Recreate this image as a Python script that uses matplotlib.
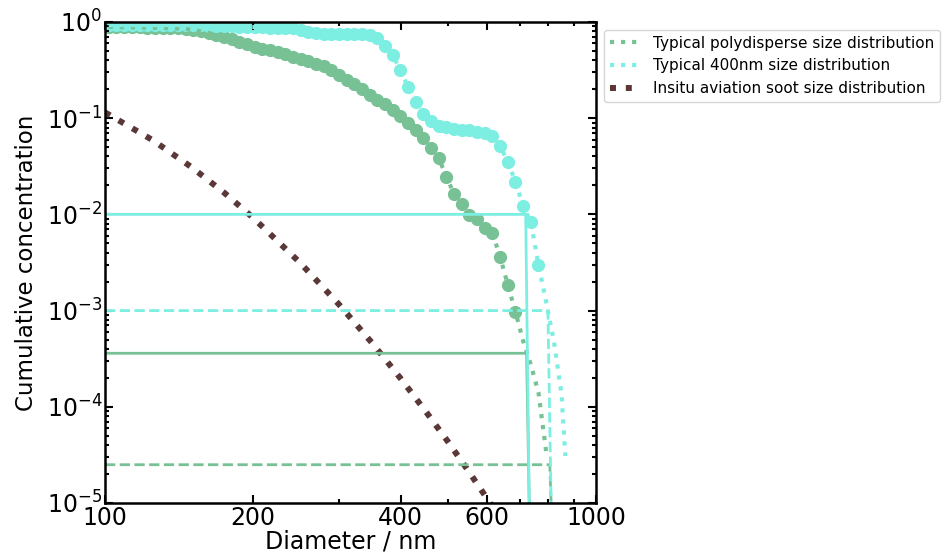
import matplotlib
matplotlib.use('Agg')
import matplotlib.pyplot as plt
from matplotlib.ticker import FixedLocator, NullFormatter, LogLocator

# SMPS channel midpoints (nm)
diam = [101.8, 105.5, 109.4, 113.4, 117.6, 121.9, 126.3, 131.0, 135.8, 140.7,
        145.9, 151.2, 156.8, 162.5, 168.5, 174.7, 181.1, 187.7, 194.6, 201.7,
        209.1, 216.7, 224.7, 232.9, 241.4, 250.3, 259.5, 269.0, 278.8, 289.0,
        299.6, 310.6, 322.0, 333.8, 346.0, 358.7, 371.8, 385.4, 399.5, 414.2,
        429.4, 445.1, 461.4, 478.3, 495.8, 514.0, 532.8, 552.3, 572.5, 593.5,
        615.3, 637.8, 661.2, 685.4, 710.5, 736.5, 763.5, 791.5, 820.5, 850.5]

# typical polydisperse (green)
poly_conc = [0.89, 0.89, 0.88, 0.88, 0.88, 0.87, 0.87, 0.866, 0.866, 0.856,
             0.846, 0.826, 0.797, 0.769, 0.733, 0.690, 0.658, 0.620, 0.584, 0.556,
             0.530, 0.512, 0.488, 0.465, 0.433, 0.412, 0.389, 0.366, 0.349, 0.317,
             0.281, 0.249, 0.224, 0.199, 0.176, 0.156, 0.1405, 0.123, 0.1054, 0.0891,
             0.0754, 0.0622, 0.0490, 0.0386, 0.0245, 0.0163, 0.0128, 0.00986, 0.00896, 0.00722,
             0.00641, 0.00361, 0.00185, 0.000967, 4.83e-4, 2.75e-4, 1.4e-4, 3.4e-5]
poly_n_markers = 54

# typical 400nm (cyan)
mono_conc = [0.93, 0.93, 0.93, 0.93, 0.93, 0.93, 0.93, 0.93, 0.93, 0.93,
             0.93, 0.925, 0.92, 0.915, 0.91, 0.905, 0.90, 0.895, 0.89, 0.885,
             0.88, 0.875, 0.87, 0.866, 0.866, 0.826, 0.787, 0.769, 0.759, 0.759,
             0.759, 0.759, 0.759, 0.750, 0.733, 0.682, 0.563, 0.454, 0.317, 0.211,
             0.147, 0.1106, 0.0935, 0.0830, 0.0810, 0.0772, 0.0754, 0.0754, 0.0727, 0.0702,
             0.0653, 0.0514, 0.0351, 0.0217, 0.0122, 0.00834, 0.00298, 0.00123, 4.83e-4, 1.36e-4]
mono_tail_d = 866.0
mono_tail_c = 3.08e-5
mono_n_markers = 57

# insitu aviation soot
soot_d = [100, 125, 150, 175, 200, 250, 300, 350, 400, 450, 500, 550, 600, 650]
soot_c = [0.115, 0.0592, 0.0310, 0.01676, 0.00929, 0.00312, 0.00115, 4.6e-4,
          1.97e-4, 8.95e-5, 4.3e-5, 2.14e-5, 1.11e-5, 5.98e-6]

# threshold lines
mono_solid_x = [100, 719, 731]
mono_solid_y = [1e-2, 1e-2, 1e-5]
mono_dash_x = [100, 798, 810]
mono_dash_y = [1e-3, 1e-3, 1e-5]
poly_solid_x = [100, 722, 731]
poly_solid_y = [3.6e-4, 3.6e-4, 1e-5]
poly_dash_x = [100, 805, 810]
poly_dash_y = [2.5e-5, 2.5e-5, 1e-5]

green = '#78c195'
cyan = '#7ceee2'
brown = '#5a3838'

fig = plt.figure(figsize=(9.44, 5.58), dpi=100)
ax1 = fig.add_axes([0.1112, 0.0986, 0.5202, 0.862])

ax1.scatter(diam[:poly_n_markers], poly_conc[:poly_n_markers], s=72, color=green, zorder=1)
ax1.scatter(diam[:mono_n_markers], mono_conc[:mono_n_markers], s=72, color=cyan, zorder=1)

ax1.plot(diam[:len(poly_conc)], poly_conc, ':', color=green, lw=3,
         label='Typical polydisperse size distribution')
ax1.plot(diam + [mono_tail_d], mono_conc + [mono_tail_c], ':', color=cyan, lw=3,
         label='Typical 400nm size distribution')
ax1.plot(soot_d, soot_c, ':', color=brown, lw=4.3,
         label='Insitu aviation soot size distribution')

ax1.plot(poly_solid_x, poly_solid_y, '-', color=green, lw=2)
ax1.plot(poly_dash_x, poly_dash_y, '--', color=green, lw=2)
ax1.plot(mono_solid_x, mono_solid_y, '-', color=cyan, lw=2)
ax1.plot(mono_dash_x, mono_dash_y, '--', color=cyan, lw=2)

ax1.set_xscale('log')
ax1.set_yscale('log')
ax1.set_xlim(100, 1000)
ax1.set_ylim(1e-5, 1)

ax1.xaxis.set_major_locator(FixedLocator([100, 200, 400, 600, 1000]))
ax1.xaxis.set_minor_locator(FixedLocator([300, 500, 700, 800, 900]))
ax1.set_xticklabels(['100', '200', '400', '600', '1000'])
ax1.xaxis.set_minor_formatter(NullFormatter())
ax1.yaxis.set_major_locator(LogLocator(base=10, numticks=10))
ax1.yaxis.set_minor_locator(LogLocator(base=10, subs=range(2, 10), numticks=20))
ax1.yaxis.set_minor_formatter(NullFormatter())

ax1.tick_params(which='both', direction='in', top=True, right=True, labelsize=17, width=1.5)
ax1.tick_params(which='major', length=6, pad=2)
ax1.tick_params(which='minor', length=3)
for sp in ax1.spines.values():
    sp.set_linewidth(1.8)

ax1.set_xlabel('Diameter / nm', fontsize=17, labelpad=0)
ax1.set_ylabel('Cumulative concentration', fontsize=16.5, labelpad=6)
ax1.legend(loc='upper left', bbox_to_anchor=(1, 1), fontsize=11)

fig.savefig('out.png', dpi=100)
